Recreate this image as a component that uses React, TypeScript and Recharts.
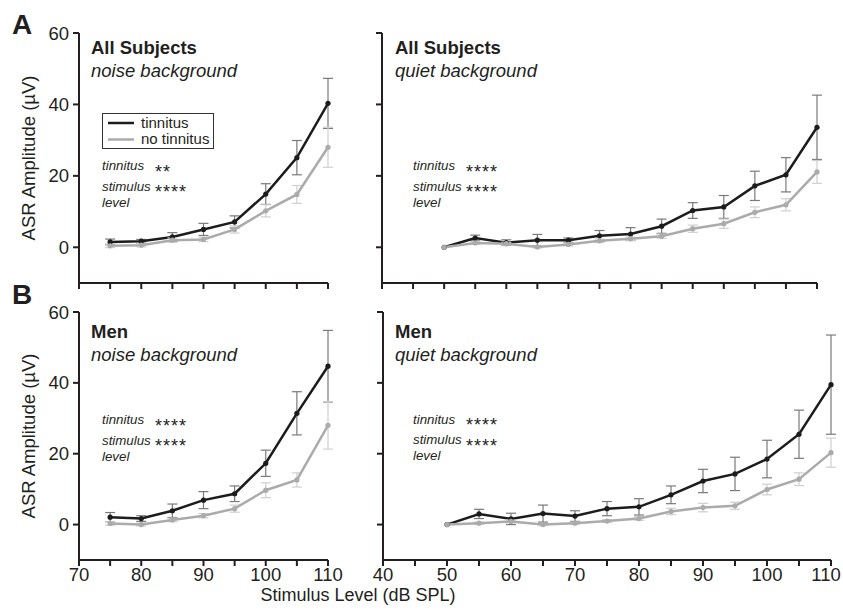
import React from 'react';
import { LineChart, Line, XAxis, YAxis, ErrorBar } from 'recharts';

const noiseLevels = [75, 80, 85, 90, 95, 100, 105, 110];
const quietLevels = [50, 55, 60, 65, 70, 75, 80, 85, 90, 95, 100, 105, 110];

const noiseTicks = [70, 75, 80, 85, 90, 95, 100, 105, 110];
const quietTicks = [40, 45, 50, 55, 60, 65, 70, 75, 80, 85, 90, 95, 100, 105, 110];
const ampTicks = [0, 20, 40, 60];

// All subjects, noise background
const allNoiseTin = [1.5, 1.7, 2.9, 5.0, 7.1, 14.9, 25.1, 40.3];
const allNoiseTinErr = [0.8, 0.5, 1.2, 1.7, 1.7, 2.9, 4.8, 7.0];
const allNoiseNo = [0.4, 0.6, 2.0, 2.2, 5.0, 10.2, 14.8, 28.0];
const allNoiseNoErr = [0.5, 0.5, 0.6, 0.6, 1.0, 1.7, 2.5, 5.6];

// All subjects, quiet background
const allQuietTin = [0, 2.6, 1.3, 2.0, 2.0, 3.2, 3.7, 5.9, 10.3, 11.3, 17.2, 20.3, 33.6];
const allQuietTinErr = [0, 0.8, 0.8, 1.6, 0.6, 1.5, 1.8, 2.0, 2.2, 3.2, 4.1, 4.8, 9.0];
const allQuietNo = [0, 1.2, 1.0, 0.1, 0.8, 1.8, 2.4, 3.1, 5.2, 6.6, 9.8, 11.9, 21.1];
const allQuietNoErr = [0, 0.4, 0.4, 0.3, 0.4, 0.5, 0.5, 0.6, 1.0, 1.3, 1.5, 1.7, 3.2];

// Men, noise background
const menNoiseTin = [2.1, 1.7, 3.9, 6.9, 8.7, 17.3, 31.4, 44.7];
const menNoiseTinErr = [1.3, 0.8, 1.9, 2.4, 2.2, 3.7, 6.1, 10.1];
const menNoiseNo = [0.3, 0, 1.3, 2.5, 4.5, 9.7, 12.6, 28.0];
const menNoiseNoErr = [0.5, 0.4, 0.5, 0.6, 1.0, 2.1, 2.0, 6.7];

// Men, quiet background
const menQuietTin = [0, 3.0, 1.6, 3.1, 2.4, 4.5, 5.0, 8.4, 12.3, 14.3, 18.5, 25.5, 39.5];
const menQuietTinErr = [0, 1.3, 1.6, 2.4, 1.5, 2.0, 2.3, 2.5, 3.3, 4.7, 5.3, 6.8, 14.0];
const menQuietNo = [0, 0.4, 0.9, 0, 0.4, 1.0, 1.7, 3.7, 4.8, 5.3, 9.9, 12.8, 20.3];
const menQuietNoErr = [0, 0.3, 0.4, 0.3, 0.3, 0.4, 0.5, 0.9, 1.2, 1.0, 1.5, 1.8, 4.1];

const font = '"Liberation Sans", Arial, Helvetica, sans-serif';
const ink = '#231f20';
const dark = '#1c1c1c';
const darkErr = '#7a7a7a';
const light = '#ababab';
const lightErr = '#cfcfcf';

const build = (x: number[], t: number[], te: number[], n: number[], ne: number[]) =>
	x.map((v, i) => ({ x: v, t: t[i], te: te[i], n: n[i], ne: ne[i] }));

const axisLine = { stroke: ink, strokeWidth: 2 };

interface PanelProps {
	data: ReturnType<typeof build>;
	left: number;
	top: number;
	width: number;
	height: number;
	margin: { top: number; right: number; left: number; bottom: number };
	yWidth: number;
	xHeight: number;
	xDomain: [number, number];
	xTicks: number[];
	showX: boolean;
	showY: boolean;
	lastShift?: number;
}

// bottom tick label; the last one can be nudged left so it stays inside the page
const XTick = (props: any) => {
	const { x, y, payload, show, lastShift, max } = props;
	if (!show || payload.value % 10 !== 0) return null;
	const dx = payload.value === max ? -(lastShift || 0) : 0;
	return (
		<text x={x + dx} y={y} dy="0.71em" textAnchor="middle" fill={ink} fontSize={18.5} fontFamily={font}>
			{payload.value}
		</text>
	);
};

const Panel: React.FC<PanelProps> = (p) => (
	<div style={{ position: 'absolute', left: p.left, top: p.top }}>
		<LineChart width={p.width} height={p.height} data={p.data} margin={p.margin}>
			<XAxis
				type="number"
				dataKey="x"
				domain={p.xDomain}
				ticks={p.xTicks}
				interval={0}
				height={p.xHeight}
				axisLine={axisLine}
				tickLine={axisLine}
				tickSize={6}
				tickMargin={2}
				tick={<XTick show={p.showX} lastShift={p.lastShift} max={p.xDomain[1]} />}
			/>
			<YAxis
				type="number"
				domain={[-10, 60]}
				ticks={ampTicks}
				interval={0}
				width={p.yWidth}
				axisLine={axisLine}
				tickLine={axisLine}
				tickSize={6}
				tickMargin={4}
				tick={{ fill: ink, fontSize: 18.5, fontFamily: font }}
				tickFormatter={(v: number) => (p.showY ? String(v) : '')}
			/>
			<Line
				dataKey="t"
				stroke={dark}
				strokeWidth={2.5}
				dot={{ r: 2.6, fill: dark, stroke: dark, strokeWidth: 0 }}
				isAnimationActive={false}
			>
				<ErrorBar dataKey="te" direction="y" width={5} stroke={darkErr} strokeWidth={1.2} />
			</Line>
			<Line
				dataKey="n"
				stroke={light}
				strokeWidth={2.5}
				dot={{ r: 2.6, fill: light, stroke: light, strokeWidth: 0 }}
				isAnimationActive={false}
			>
				<ErrorBar dataKey="ne" direction="y" width={5} stroke={lightErr} strokeWidth={1.2} />
			</Line>
		</LineChart>
	</div>
);

const Stats: React.FC<{ x: number; y: number; tin: string }> = ({ x, y, tin }) => (
	<g fontFamily={font} fill={ink}>
		<text x={x} y={y} fontSize={13.3} fontStyle="italic">tinnitus</text>
		<text x={x + 53} y={y + 7.5} fontSize={18} letterSpacing={1}>{tin}</text>
		<text x={x} y={y + 20.7} fontSize={13.3} fontStyle="italic">stimulus</text>
		<text x={x + 53} y={y + 28.2} fontSize={18} letterSpacing={1}>****</text>
		<text x={x} y={y + 36.7} fontSize={13.3} fontStyle="italic">level</text>
	</g>
);

export default function App() {
	return (
		<div style={{ position: 'absolute', left: 0, top: 0, width: 843, height: 613, background: '#fff', overflow: 'hidden' }}>
			<style>{'.recharts-surface{overflow:visible}'}</style>
			<Panel
				data={build(noiseLevels, allNoiseTin, allNoiseTinErr, allNoiseNo, allNoiseNoErr)}
				left={0} top={0} width={340} height={300}
				margin={{ top: 33, right: 12, left: 0, bottom: 0 }}
				yWidth={79} xHeight={17} xDomain={[70, 110]} xTicks={noiseTicks}
				showX={false} showY
			/>
			<Panel
				data={build(quietLevels, allQuietTin, allQuietTinErr, allQuietNo, allQuietNoErr)}
				left={370} top={0} width={460} height={300}
				margin={{ top: 33, right: 13, left: 0, bottom: 0 }}
				yWidth={12} xHeight={17} xDomain={[40, 110]} xTicks={quietTicks}
				showX={false} showY={false}
			/>
			<Panel
				data={build(noiseLevels, menNoiseTin, menNoiseTinErr, menNoiseNo, menNoiseNoErr)}
				left={0} top={290} width={340} height={323}
				margin={{ top: 22, right: 12, left: 0, bottom: 0 }}
				yWidth={79} xHeight={53} xDomain={[70, 110]} xTicks={noiseTicks}
				showX showY
			/>
			<Panel
				data={build(quietLevels, menQuietTin, menQuietTinErr, menQuietNo, menQuietNoErr)}
				left={370} top={290} width={473} height={323}
				margin={{ top: 22, right: 12, left: 0, bottom: 0 }}
				yWidth={13} xHeight={53} xDomain={[40, 110]} xTicks={quietTicks}
				showX showY={false} lastShift={5}
			/>
			<svg
				width={843}
				height={613}
				style={{ position: 'absolute', left: 0, top: 0, pointerEvents: 'none' }}
			>
				<g fontFamily={font} fill={ink}>
					<text x={12} y={34} fontSize={28} fontWeight="bold">A</text>
					<text x={12} y={304} fontSize={28} fontWeight="bold">B</text>

					<text
						transform="translate(35,158) rotate(-90)"
						textAnchor="middle"
						fontSize={18.5}
					>
						ASR Amplitude (µV)
					</text>
					<text
						transform="translate(35,436) rotate(-90)"
						textAnchor="middle"
						fontSize={18.5}
					>
						ASR Amplitude (µV)
					</text>

					<text x={358} y={601} textAnchor="middle" fontSize={18}>Stimulus Level (dB SPL)</text>

					<text x={91} y={54} fontSize={18.5} fontWeight="bold">All Subjects</text>
					<text x={91} y={77} fontSize={18.5} fontStyle="italic">noise background</text>
					<text x={395} y={54} fontSize={18.5} fontWeight="bold">All Subjects</text>
					<text x={395} y={77} fontSize={18.5} fontStyle="italic">quiet background</text>
					<text x={91} y={338} fontSize={18.5} fontWeight="bold">Men</text>
					<text x={91} y={361} fontSize={18.5} fontStyle="italic">noise background</text>
					<text x={395} y={338} fontSize={18.5} fontWeight="bold">Men</text>
					<text x={395} y={361} fontSize={18.5} fontStyle="italic">quiet background</text>
				</g>

				<rect x={102.5} y={113.5} width={111} height={35} fill="#fff" stroke="#333" strokeWidth={1} />
				<line x1={108} y1={123} x2={134} y2={123} stroke={dark} strokeWidth={2.5} />
				<line x1={108} y1={139.5} x2={134} y2={139.5} stroke={light} strokeWidth={2.5} />
				<text x={141} y={128} fontSize={15} fontFamily={font} fill={ink}>tinnitus</text>
				<text x={141} y={144} fontSize={15} fontFamily={font} fill={ink}>no tinnitus</text>

				<Stats x={102} y={170} tin="**" />
				<Stats x={413} y={170} tin="****" />
				<Stats x={102} y={424} tin="****" />
				<Stats x={413} y={423.5} tin="****" />
			</svg>
		</div>
	);
}
